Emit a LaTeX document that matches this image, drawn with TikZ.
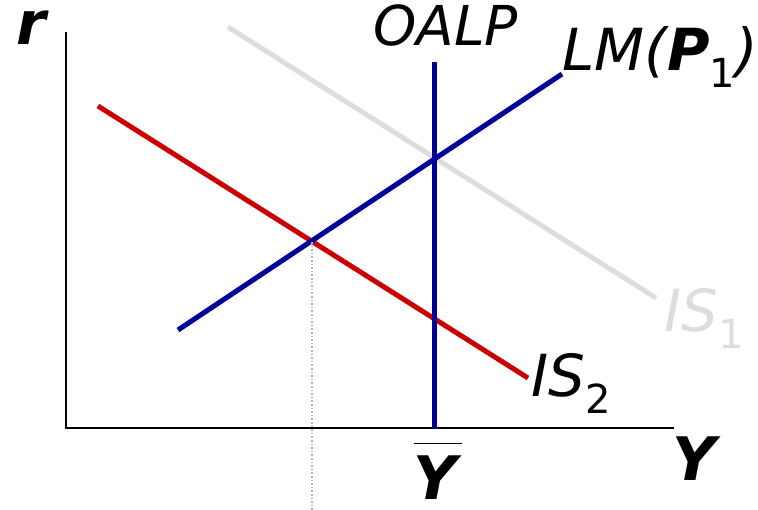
\documentclass[tikz,border=0pt]{standalone}
\usepackage{fontspec}
\setmainfont{DejaVu Sans}
\usepackage{xcolor}
\usetikzlibrary{positioning,calc}
\definecolor{ISgray}{HTML}{DDDDDD}
\definecolor{ISred}{HTML}{CC0000}
\definecolor{LMblue}{HTML}{000099}
\newcommand{\lblsub}[1]{\raisebox{-0.28em}{\fontsize{40}{40}\selectfont\upshape #1}}

\begin{document}
\begin{tikzpicture}[
      x=1pt, y=-1pt,
      axisline/.style={draw=black, line width=2.6pt},
      curve/.style={draw=#1, line width=5pt},
      guide/.style={draw=gray!60, line width=1.6pt, dotted},
      lbl/.style={font=\fontsize{58}{60}\selectfont\itshape, inner sep=0pt, anchor=base west},
      axlbl/.style={font=\fontsize{60}{62}\selectfont\bfseries\itshape, inner sep=0pt, anchor=base west}
    ]
    \useasboundingbox (0,0) rectangle (758,510);

    % Axes
    \coordinate (origin) at (66,428);
    \coordinate (rtop) at (66,32);
    \coordinate (yend) at (674,428);
    \draw[axisline] (rtop) -- (origin) -- (yend);
    \node[axlbl] (rlbl) at (16,45) {r};
    \node[axlbl] (ylbl) at (672,480) {Y};

    % Curves
    \coordinate (is1a) at (228,27);
    \coordinate (is1b) at (656,298);
    \draw[curve=ISgray] (is1a) -- (is1b);
    \coordinate (is2a) at (98,106);
    \coordinate (is2b) at (528,378);
    \draw[curve=ISred] (is2a) -- (is2b);
    \coordinate (lma) at (178,330);
    \coordinate (lmb) at (562,74);
    \draw[curve=LMblue] (lma) -- (lmb);
    \coordinate (oalptop) at (434,62);
    \coordinate (oalpbot) at (434,429);
    \draw[curve=LMblue] (oalptop) -- (oalpbot);

    % Equilibrium guide
    \coordinate (eq) at (312,242);
    \coordinate (eqfoot) at (312,510);
    \draw[guide] (eq) -- (eqfoot);

    % Labels
    \node[lbl, font=\fontsize{55}{58}\selectfont\itshape] (oalplbl) at (373,46) {OALP};
    \node[lbl] (lmlbl) at (562,71) {LM({\bfseries P}\lblsub{1})};
    \node[lbl, text=ISgray] (is1lbl) at (664,332) {IS\lblsub{1}};
    \node[lbl] (is2lbl) at (531,397) {IS\lblsub{2}};
    \node[axlbl, anchor=base] (ybarlbl) at (438,500)
      {$\overline{\hbox{\bfseries\itshape\rule{0pt}{0.92em}Y\kern0.08em}}$};
\end{tikzpicture}
\end{document}
